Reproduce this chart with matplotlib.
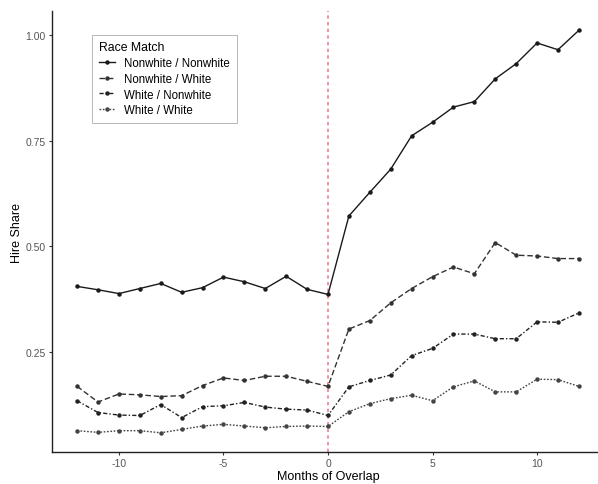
import matplotlib
matplotlib.use("Agg")
import matplotlib.pyplot as plt

months = list(range(-12, 13))
nw_nw = [0.405, 0.397, 0.388, 0.400, 0.412, 0.391, 0.402, 0.427, 0.416, 0.400, 0.429, 0.398, 0.386,
         0.572, 0.628, 0.683, 0.762, 0.794, 0.830, 0.843, 0.897, 0.933, 0.982, 0.966, 1.012]
nw_w = [0.168, 0.131, 0.150, 0.148, 0.144, 0.146, 0.170, 0.188, 0.182, 0.192, 0.192, 0.180, 0.168,
        0.304, 0.324, 0.366, 0.400, 0.428, 0.451, 0.435, 0.509, 0.479, 0.477, 0.471, 0.471]
w_nw = [0.134, 0.106, 0.100, 0.099, 0.125, 0.094, 0.120, 0.122, 0.130, 0.119, 0.114, 0.112, 0.099,
        0.167, 0.182, 0.195, 0.241, 0.258, 0.292, 0.292, 0.281, 0.281, 0.321, 0.320, 0.342]
w_w = [0.063, 0.059, 0.063, 0.063, 0.058, 0.066, 0.074, 0.078, 0.074, 0.070, 0.073, 0.074, 0.073,
       0.108, 0.127, 0.139, 0.147, 0.134, 0.167, 0.181, 0.155, 0.155, 0.185, 0.184, 0.168]
labels = ["Nonwhite / Nonwhite", "Nonwhite / White", "White / Nonwhite", "White / White"]
xticks = [-10, -5, 0, 5, 10]
yticks = [0.25, 0.50, 0.75, 1.00]

plt.rcParams['font.family'] = ['Liberation Sans', 'DejaVu Sans']
fig = plt.figure(figsize=(5.98, 4.85), dpi=100)
ax = fig.add_axes([0.087, 0.066, 0.923, 0.909])

styles = [
    dict(linestyle='-', color='#1a1a1a'),
    dict(linestyle=(0, (4, 2)), color='#333333'),
    dict(linestyle=(0, (3, 1.5, 1, 1.5)), color='#222222'),
    dict(linestyle=(0, (1.2, 1.2)), color='#444444'),
]
series = [nw_nw, nw_w, w_nw, w_w]
for s, lab, st in zip(series, labels, styles):
    ax.plot(months, s, marker='o', markersize=2.2, linewidth=1.0, label=lab, **st)

ax.axvline(0, color='#f08090', linestyle=(0, (2, 2)), linewidth=1.2, zorder=0)

ax.set_xlim(-13.2, 13.2)
ax.set_ylim(0.0125, 1.0575)
ax.set_xticks(xticks)
ax.set_xticklabels([str(t) for t in xticks])
ax.set_yticks(yticks)
ax.set_yticklabels([f"{t:.2f}" for t in yticks])
for sp in ['top', 'right']:
    ax.spines[sp].set_visible(False)
for sp in ['left', 'bottom']:
    ax.spines[sp].set_linewidth(1.0)
    ax.spines[sp].set_color('#222222')
ax.tick_params(axis='both', labelsize=7.5, labelcolor='#555555', color='#333333', length=2.5, pad=2)
ax.set_xlabel("Months of Overlap", fontsize=9, labelpad=1)
ax.set_ylabel("Hire Share", fontsize=9, labelpad=2)

leg = ax.legend(title="Race Match", loc='upper left', bbox_to_anchor=(0.062, 0.96),
                fontsize=8.3, title_fontsize=8.8, frameon=True, fancybox=False,
                handlelength=1.4, labelspacing=0.32, borderpad=0.6, alignment='left')
leg.get_frame().set_edgecolor('#999999')
leg.get_frame().set_linewidth(0.6)

fig.savefig("out.png", dpi=100)
